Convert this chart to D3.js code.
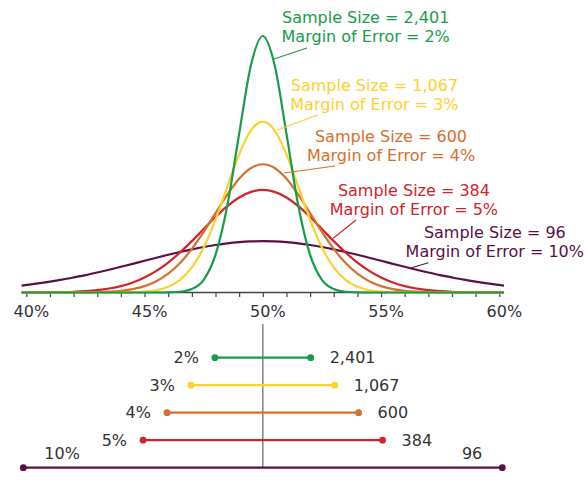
<!DOCTYPE html>
<html><head><meta charset="utf-8">
<script src="https://cdn.jsdelivr.net/npm/d3@7"></script>
<style>
body{margin:0;background:#fff}
text{font-family:"DejaVu Sans",sans-serif;font-size:16px}
</style>
</head><body>
<svg id="c" width="588" height="480"></svg>
<script>
// ---- data ----
const margins = [2, 3, 4, 5, 10];
const sampleSizes = [2401, 1067, 600, 384, 96];
const colors = ["#179c49", "#fdd02c", "#d46f2d", "#d1232b", "#5b0f45"];
const tickLabels = ["40%", "45%", "50%", "55%", "60%"];
const tickValues = [40, 45, 50, 55, 60];

// x positions (percent) of the sampled curve points
const pct = [39.8,40,40.5,41,41.5,42,42.5,43,43.5,44,44.5,45,45.5,46,46.5,47,47.5,48,48.5,49,49.5,
  50,50.5,51,51.5,52,52.5,53,53.5,54,54.5,55,55.5,56,56.5,57,57.5,58,58.5,59,59.5,60,60.2];

// curve heights (density per percentage point)
const curve2 = [0,0,0,0,0,0,0,0,0,0,0,0,0,0.0002,0.0011,0.0052,0.0194,0.0573,0.1327,0.2420,0.3468,
  0.3910,0.3468,0.2420,0.1327,0.0573,0.0194,0.0052,0.0011,0.0002,0,0,0,0,0,0,0,0,0,0,0,0,0];
const curve3 = [0,0,0,0,0,0,0,0,0,0.0001,0.0004,0.0013,0.0035,0.0086,0.0191,0.0382,0.0686,0.1110,0.1612,0.2105,0.2471,
  0.2606,0.2471,0.2105,0.1612,0.1110,0.0686,0.0382,0.0191,0.0086,0.0035,0.0013,0.0004,0.0001,0,0,0,0,0,0,0,0,0];
const curve4 = [0,0,0,0,0,0.0001,0.0002,0.0005,0.0012,0.0026,0.0052,0.0097,0.0172,0.0286,0.0449,0.0664,0.0923,0.1210,0.1492,0.1734,0.1897,
  0.1955,0.1897,0.1734,0.1492,0.1210,0.0923,0.0664,0.0449,0.0286,0.0172,0.0097,0.0052,0.0026,0.0012,0.0005,0.0002,0.0001,0,0,0,0,0];
const curve5 = [0.0001,0.0001,0.0002,0.0003,0.0006,0.0011,0.0021,0.0036,0.0061,0.0098,0.0153,0.0229,0.0330,0.0457,0.0610,0.0783,0.0968,0.1150,0.1316,0.1448,0.1534,
  0.1564,0.1534,0.1448,0.1316,0.1150,0.0968,0.0783,0.0610,0.0457,0.0330,0.0229,0.0153,0.0098,0.0061,0.0036,0.0021,0.0011,0.0006,0.0003,0.0002,0.0001,0.0001];
const curve10 = [0.0106,0.0115,0.0138,0.0165,0.0195,0.0229,0.0265,0.0305,0.0347,0.0392,0.0437,0.0484,0.0530,0.0575,0.0618,0.0658,0.0694,0.0724,0.0749,0.0767,0.0778,
  0.0782,0.0778,0.0767,0.0749,0.0724,0.0694,0.0658,0.0618,0.0575,0.0530,0.0484,0.0437,0.0392,0.0347,0.0305,0.0265,0.0229,0.0195,0.0165,0.0138,0.0115,0.0106];
const curves = [curve2, curve3, curve4, curve5, curve10];

// label anchors in data units: [x%, density] for text centre, leader start, leader end
const labelPos = [54.35, 54.72, 55.42, 56.39, 59.81];
const labelDen = [0.4113, 0.3076, 0.2294, 0.1471, 0.0834];
const leaderFrom = [[50.47, 0.356], [50.6, 0.2477], [50.9, 0.1822], [52.98, 0.0826], [56.22, 0.0369]];
const leaderTo = [[51.87, 0.3727], [52.33, 0.2706], [53.05, 0.1928], [53.94, 0.1105], [57.0, 0.0454]];

// ---- drawing ----
const svg = d3.select("#c");
const x = d3.scaleLinear().domain([40, 60]).range([26.3, 499.3]);
const y = d3.scaleLinear().domain([0, 0.4]).range([292.5, 292.5 - 0.4 * 656]);
const xb = d3.scaleLinear().domain([40, 60]).range([23.3, 502.3]);
const rowY = d3.scalePoint().domain(margins).range([357.7, 467.7]);
const textCol = "#333";

// axis
const axis = d3.axisBottom(x).tickValues(d3.range(40, 61, 1)).tickSize(4.5).tickSizeOuter(0).tickFormat("");
const ag = svg.append("g").attr("transform", "translate(0,292.5)").call(axis);
ag.select(".domain").remove();
ag.selectAll(".tick line").attr("stroke", "#444").attr("stroke-width", 1.2);
svg.append("line").attr("x1", x(pct[0])).attr("x2", x(pct[pct.length - 1]))
  .attr("y1", y(0)).attr("y2", y(0)).attr("stroke", "#444").attr("stroke-width", 1.5);
svg.selectAll(".tl").data(tickValues).enter().append("text")
  .attr("x", d => x(d) + 5).attr("y", 317).attr("text-anchor", "middle")
  .attr("fill", textCol).text((d, i) => tickLabels[i]);

// curves (widest first)
const line = d3.line().x((d, i) => x(pct[i])).y(d => y(d)).curve(d3.curveMonotoneX);
const order = [4, 3, 2, 1, 0];
order.forEach(k => {
  svg.append("path").attr("d", line(curves[k])).attr("fill", "none")
    .attr("stroke", colors[k]).attr("stroke-width", 2.2);
});

// annotations
const fmt = d3.format(",");
margins.forEach((m, k) => {
  svg.append("line")
    .attr("x1", x(leaderFrom[k][0])).attr("y1", y(leaderFrom[k][1]))
    .attr("x2", x(leaderTo[k][0])).attr("y2", y(leaderTo[k][1]))
    .attr("stroke", colors[k]).attr("stroke-width", 1.2);
  const t = svg.append("text").attr("x", x(labelPos[k])).attr("y", y(labelDen[k]))
    .attr("text-anchor", "middle").attr("fill", colors[k]);
  t.append("tspan").attr("x", x(labelPos[k])).text("Sample Size = " + fmt(sampleSizes[k]));
  t.append("tspan").attr("x", x(labelPos[k])).attr("dy", 19.2).text("Margin of Error = " + m + "%");
});

// lower panel
svg.append("line").attr("x1", xb(50)).attr("x2", xb(50)).attr("y1", 324).attr("y2", rowY(10))
  .attr("stroke", "#8a8a8a").attr("stroke-width", 1.6);
margins.forEach((m, k) => {
  const yy = rowY(m);
  svg.append("line").attr("x1", xb(50 - m)).attr("x2", xb(50 + m)).attr("y1", yy).attr("y2", yy)
    .attr("stroke", colors[k]).attr("stroke-width", 2.2);
  [50 - m, 50 + m].forEach(v => {
    svg.append("circle").attr("cx", xb(v)).attr("cy", yy).attr("r", 3.4).attr("fill", colors[k]);
  });
  if (m < 10) {
    svg.append("text").attr("x", xb(50 - m) - 16).attr("y", yy + 5.7).attr("text-anchor", "end")
      .attr("fill", textCol).text(m + "%");
    svg.append("text").attr("x", xb(50 + m) + 19).attr("y", yy + 5.7).attr("text-anchor", "start")
      .attr("fill", textCol).text(fmt(sampleSizes[k]));
  } else {
    svg.append("text").attr("x", xb(50 - m) + 21).attr("y", yy - 8.4).attr("text-anchor", "start")
      .attr("fill", textCol).text(m + "%");
    svg.append("text").attr("x", xb(50 + m) - 20).attr("y", yy - 8.4).attr("text-anchor", "end")
      .attr("fill", textCol).text(fmt(sampleSizes[k]));
  }
});
</script>
</body></html>
